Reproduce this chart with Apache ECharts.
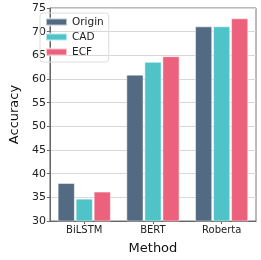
<!DOCTYPE html>
<html><head><meta charset="utf-8">
<script src="https://cdn.jsdelivr.net/npm/echarts@6/dist/echarts.min.js"></script>
<style>html,body{margin:0;padding:0;background:#fff}#c{width:261px;height:260px}</style>
</head><body><div id="c"></div>
<script>
const categories = ['BiLSTM', 'BERT', 'Roberta'];
const seriesNames = ['Origin', 'CAD', 'ECF'];
const origin = [38.0, 60.9, 71.1];
const cad = [34.7, 63.6, 71.1];
const ecf = [36.2, 64.8, 72.8];
const yTicks = [30, 35, 40, 45, 50, 55, 60, 65, 70, 75];
const colors = ['#536a83', '#4fc3c8', '#ec627c'];
const values = [origin, cad, ecf];

const chart = echarts.init(document.getElementById('c'), null, {renderer: 'canvas'});
const font = 'DejaVu Sans';
chart.setOption({
  animation: false,
  grid: {left: 37, right: 5, top: 8, bottom: 34, show: true, borderColor: '#777', borderWidth: 1},
  legend: {
    left: 40, top: 13, orient: 'vertical', itemWidth: 21, itemHeight: 7, itemGap: 3,
    padding: [3, 5, 4, 5], borderColor: '#ddd', borderWidth: 1, borderRadius: 3,
    textStyle: {fontFamily: font, fontSize: 10.5, color: '#222', lineHeight: 12},
    data: seriesNames.map(n => ({name: n, icon: 'rect'}))
  },
  xAxis: {
    type: 'category', data: categories, name: 'Method', nameLocation: 'middle', nameGap: 21,
    nameTextStyle: {fontFamily: font, fontSize: 13, color: '#111'},
    axisLine: {lineStyle: {color: '#666'}}, axisTick: {show: true, length: 3, alignWithLabel: true, lineStyle: {color: '#666'}},
    axisLabel: {fontFamily: font, fontSize: 10, color: '#222', margin: 4}
  },
  yAxis: {
    type: 'value', min: 30, max: 75, interval: 5, name: 'Accuracy', nameLocation: 'middle', nameGap: 27,
    nameTextStyle: {fontFamily: font, fontSize: 13, color: '#111'},
    axisLine: {show: true, lineStyle: {color: '#666'}}, axisTick: {show: true, length: 3, lineStyle: {color: '#666'}},
    axisLabel: {fontFamily: font, fontSize: 11, color: '#222', margin: 4,
      formatter: v => yTicks.includes(v) ? String(v) : ''},
    splitLine: {lineStyle: {color: '#d8d8d8', width: 1}}
  },
  series: seriesNames.map((n, i) => ({
    name: n, type: 'bar', data: values[i], barWidth: 17, barGap: '6%',
    itemStyle: {color: colors[i], borderColor: 'rgba(255,255,255,0.6)', borderWidth: 0.8}
  }))
});
</script></body></html>
